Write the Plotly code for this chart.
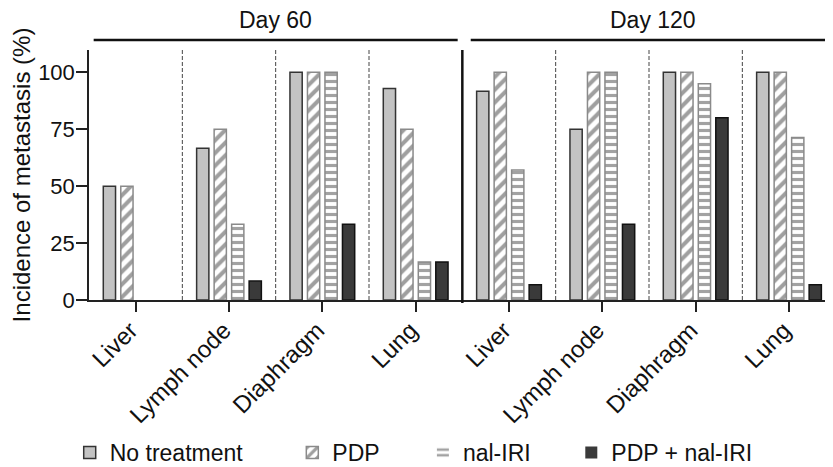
import plotly.graph_objects as go

organs = ["Liver", "Lymph node", "Diaphragm", "Lung", "Liver", "Lymph node", "Diaphragm", "Lung"]
days = ["Day 60", "Day 120"]
groups = ["No treatment", "PDP", "nal-IRI", "PDP + nal-IRI"]

no_treatment = [50, 66.7, 100, 92.9, 91.7, 75, 100, 100]
pdp = [50, 75, 100, 75, 100, 100, 100, 100]
nal_iri = [0, 33.3, 100, 16.7, 57.1, 100, 95, 71.4]
pdp_nal_iri = [0, 8.3, 33.3, 16.7, 6.7, 33.3, 80, 6.7]

yticks = [0, 25, 50, 75, 100]

FONT = "Liberation Sans, Arial, sans-serif"
xpos = list(range(len(organs)))


def widths(vals, w=1.5):
    return [w if v > 0 else 0 for v in vals]


fig = go.Figure()
fig.add_trace(go.Bar(x=xpos, y=no_treatment, name=groups[0], legend="legend",
                     marker=dict(color="#c3c3c3",
                                 line=dict(color="#333333", width=widths(no_treatment)))))
fig.add_trace(go.Bar(x=xpos, y=pdp, name=groups[1], legend="legend2",
                     marker=dict(color="white",
                                 line=dict(color="#8a8a8a", width=widths(pdp)),
                                 pattern=dict(shape="/", fgcolor="#404040", bgcolor="white",
                                              size=9, solidity=0.45))))
fig.add_trace(go.Bar(x=xpos, y=nal_iri, name=groups[2], legend="legend3",
                     marker=dict(color="white",
                                 line=dict(color="#8a8a8a", width=widths(nal_iri)),
                                 pattern=dict(shape="-", fgcolor="#454545", bgcolor="white",
                                              size=7, solidity=0.45))))
fig.add_trace(go.Bar(x=xpos, y=pdp_nal_iri, name=groups[3], legend="legend4",
                     marker=dict(color="#3a3a3a",
                                 line=dict(color="#111111", width=widths(pdp_nal_iri)))))

shapes = []
for xv in [0.5, 1.5, 2.5, 4.5, 5.5, 6.5]:
    shapes.append(dict(type="line", xref="x", yref="paper", x0=xv, x1=xv, y0=0, y1=1,
                       line=dict(color="#444444", width=1, dash="4px,2px")))
shapes.append(dict(type="line", xref="x", yref="paper", x0=3.5, x1=3.5, y0=-0.012, y1=1,
                   line=dict(color="#111111", width=2.5)))
shapes.append(dict(type="line", xref="x", yref="paper", x0=-0.45, x1=3.45, y0=1.04, y1=1.04,
                   line=dict(color="#111111", width=2.5)))
shapes.append(dict(type="line", xref="x", yref="paper", x0=3.59, x1=7.6, y0=1.04, y1=1.04,
                   line=dict(color="#111111", width=2.5)))

annotations = [
    dict(text=days[0], x=1.5, y=1.12, xref="x", yref="paper", showarrow=False,
         font=dict(size=23, color="#111111", family=FONT), yanchor="middle"),
    dict(text=days[1], x=5.54, y=1.12, xref="x", yref="paper", showarrow=False,
         font=dict(size=23, color="#111111", family=FONT), yanchor="middle"),
]

leg_common = dict(orientation="h", y=-0.61, yanchor="middle", xanchor="left",
                  font=dict(size=23, family=FONT), itemclick=False,
                  bgcolor="rgba(0,0,0,0)", entrywidthmode="pixels")

fig.update_layout(
    width=833, height=467,
    margin=dict(l=81, r=10, t=42, b=175, autoexpand=False),
    paper_bgcolor="white", plot_bgcolor="white",
    font=dict(family=FONT, color="#111111", size=22),
    barmode="group", bargap=0.25, bargroupgap=0.3,
    showlegend=True,
    legend=dict(x=-0.026, entrywidth=160, **leg_common),
    legend2=dict(x=0.274, entrywidth=70, **leg_common),
    legend3=dict(x=0.450, entrywidth=90, **leg_common),
    legend4=dict(x=0.650, entrywidth=160, **leg_common),
    shapes=shapes, annotations=annotations,
)
fig.update_xaxes(range=[-0.5, 7.45], tickvals=xpos, ticktext=organs, tickangle=-45,
                 showline=True, linecolor="#222222", linewidth=1.5,
                 ticks="outside", ticklen=10, tickwidth=1.5, tickcolor="#222222",
                 showgrid=False, zeroline=False, tickfont=dict(size=24), automargin=False,
                 ticklabelshift=-5, ticklabelstandoff=-5)
fig.update_yaxes(range=[0, 109.8], tickvals=yticks,
                 showline=True, linecolor="#222222", linewidth=1.5,
                 ticks="outside", ticklen=11, tickwidth=1.5, tickcolor="#222222",
                 showgrid=False, zeroline=False, tickfont=dict(size=22), automargin=False,
                 ticklabelstandoff=-3,
                 title=dict(text="Incidence of metastasis (%)", font=dict(size=24), standoff=2))

fig.write_html("out.html")
